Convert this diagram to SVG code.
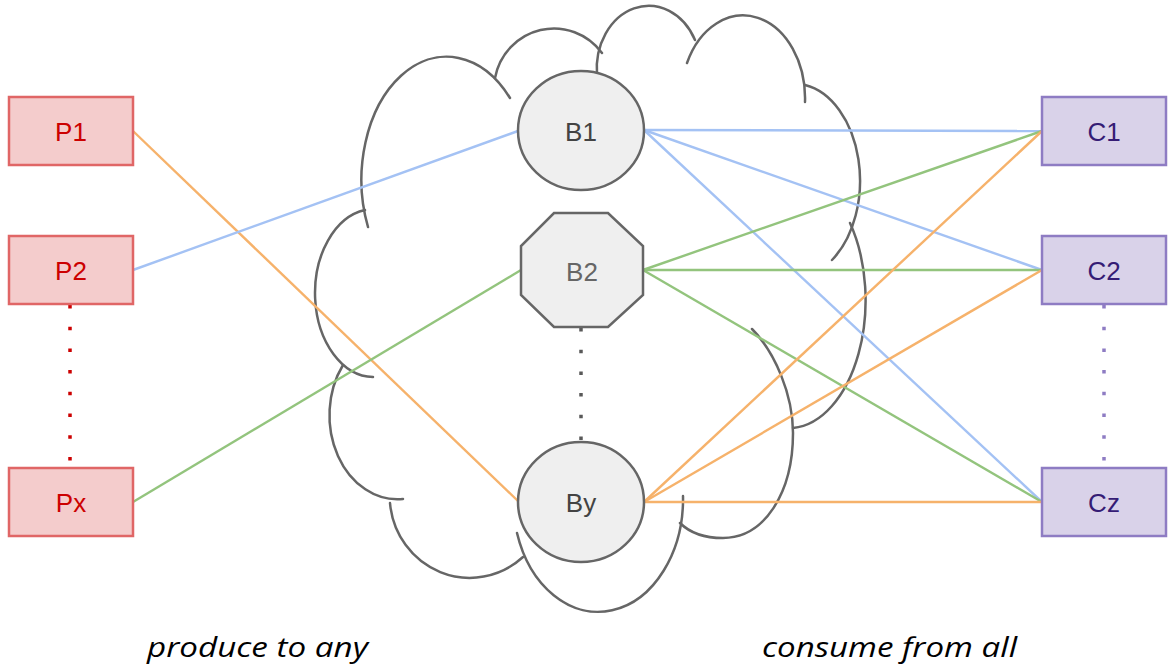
<svg xmlns="http://www.w3.org/2000/svg" width="1168" height="667" viewBox="0 0 1168 667">
<style>
.cloud{fill:none;stroke:#666666;stroke-width:2.5;stroke-linecap:round}
.prod rect{fill:#f4cccc;stroke:#e06666;stroke-width:2.5}
.prod text{fill:#cc0000}
.cons rect{fill:#d9d2e9;stroke:#8e7cc3;stroke-width:2.5}
.cons text{fill:#351c75}
.brk{fill:#efefef;stroke:#666666;stroke-width:2.5}
.lbl{font-family:"Liberation Sans",Arial,sans-serif;font-size:26px;text-anchor:middle}
.cap{font-family:"Open Sans",Lato,sans-serif;font-style:italic;font-size:28px;fill:#000}
.blue{stroke:#a4c2f4;stroke-width:2.4;fill:none}
.green{stroke:#93c47d;stroke-width:2.4;fill:none}
.orange{stroke:#f6b26b;stroke-width:2.4;fill:none}
.dot{stroke-width:3.5;stroke-dasharray:3.5 18.2;fill:none}
</style>
<g id="cloud" class="cloud">
<path d="M 510,98 A 85 123 0 0 0 368,227"/>
<path d="M 365,210 A 59 84 0 0 0 373,377"/>
<path d="M 343,365 A 68 84 0 0 0 403,499"/>
<path d="M 390,503 A 80 82 0 0 0 523,557"/>
<path d="M 517,533 A 85 113 0 0 0 683,496"/>
<path d="M 752,329 C 775,352 793,395 793,433 C 793,492 765,538 723,538 C 705,538 690,533 680,523"/>
<path d="M 850,223 A 77 128 0 0 1 793,428"/>
<path d="M 805,85 A 66 97 0 0 1 832,260"/>
<path d="M 687,63 A 62 83 0 0 1 805,102"/>
<path d="M 597,75 A 52 63 0 0 1 695,40"/>
<path d="M 495,78 A 60 61 0 0 1 602,53"/>
</g>
<g id="connectors">
<line class="orange" x1="133" y1="131" x2="519" y2="502"/>
<line class="blue" x1="133" y1="270" x2="518" y2="131"/>
<line class="green" x1="133" y1="502" x2="521" y2="270"/>
<line class="blue" x1="644" y1="130" x2="1042" y2="131"/>
<line class="blue" x1="644" y1="130" x2="1042" y2="270"/>
<line class="blue" x1="644" y1="130" x2="1042" y2="502"/>
<line class="green" x1="643" y1="270" x2="1042" y2="131"/>
<line class="green" x1="643" y1="270" x2="1042" y2="270"/>
<line class="green" x1="643" y1="270" x2="1042" y2="502"/>
<line class="orange" x1="644" y1="502" x2="1042" y2="131"/>
<line class="orange" x1="644" y1="502" x2="1042" y2="270"/>
<line class="orange" x1="644" y1="502" x2="1042" y2="502"/>
<line class="dot" stroke="#cc0000" x1="70" y1="305" x2="70" y2="468"/>
<line class="dot" stroke="#8e7cc3" x1="1104" y1="305" x2="1104" y2="468"/>
<line class="dot" stroke="#595959" x1="581" y1="328" x2="581" y2="443"/>
</g>
<g id="P1" class="prod"><rect x="9" y="97" width="124" height="68"/><text class="lbl" x="71" y="141">P1</text></g>
<g id="P2" class="prod"><rect x="9" y="236" width="124" height="68"/><text class="lbl" x="71" y="280">P2</text></g>
<g id="Px" class="prod"><rect x="9" y="468" width="124" height="68"/><text class="lbl" x="71" y="512">Px</text></g>
<g id="C1" class="cons"><rect x="1042" y="97" width="124" height="68"/><text class="lbl" x="1104" y="141">C1</text></g>
<g id="C2" class="cons"><rect x="1042" y="236" width="124" height="68"/><text class="lbl" x="1104" y="280">C2</text></g>
<g id="Cz" class="cons"><rect x="1042" y="468" width="124" height="68"/><text class="lbl" x="1104" y="512">Cz</text></g>
<g id="B1"><ellipse class="brk" cx="581" cy="130.5" rx="63" ry="59.5"/><text class="lbl" x="581" y="141" fill="#434343">B1</text></g>
<g id="B2"><polygon class="brk" points="554,213 608,213 643,246 643,295 608,327 554,327 521,295 521,246"/><text class="lbl" x="582" y="281" fill="#666666">B2</text></g>
<g id="By"><ellipse class="brk" cx="581" cy="502" rx="63" ry="60"/><text class="lbl" x="581" y="512" fill="#434343">By</text></g>
<text class="cap" x="147" y="657" textLength="221" lengthAdjust="spacingAndGlyphs">produce to any</text>
<text class="cap" x="762" y="657" textLength="255" lengthAdjust="spacingAndGlyphs">consume from all</text>
</svg>
